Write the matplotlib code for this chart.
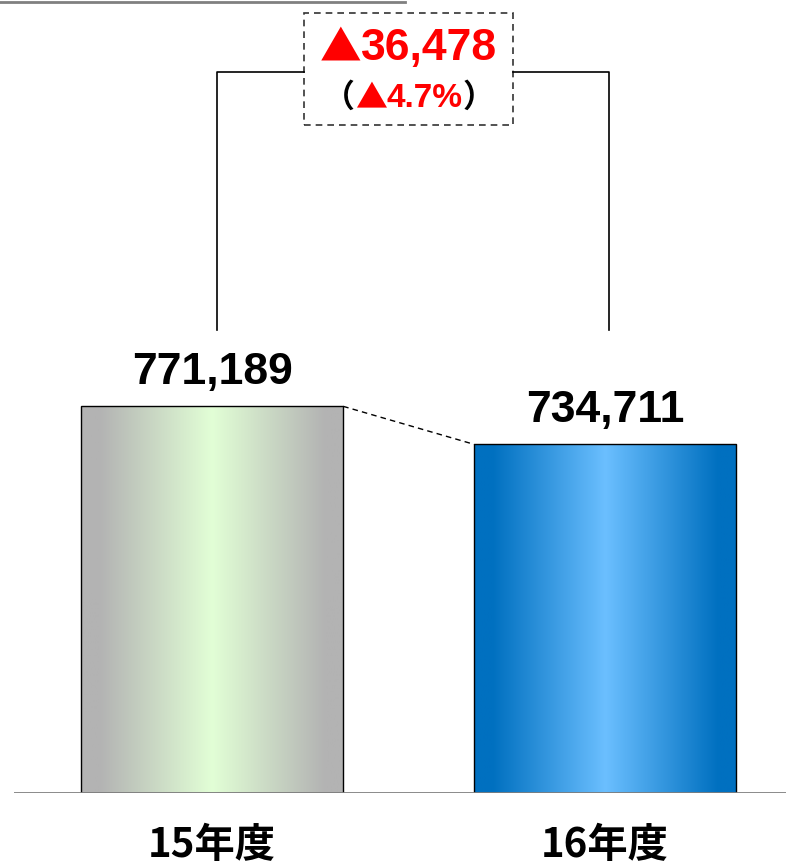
import numpy as np
import matplotlib
matplotlib.use('Agg')
import matplotlib.pyplot as plt
from matplotlib.patches import Rectangle
from matplotlib.colors import LinearSegmentedColormap
from matplotlib.offsetbox import TextArea, HPacker, AnnotationBbox

# data
categories = ['15年度', '16年度']
values = [771189, 734711]
diff_label = '36,478'
pct_label = '4.7%'
edge_colors = ['#B3B3B3', '#0070C0']
center_colors = ['#E2FFD6', '#6BBFFF']

num_font = ['Liberation Sans', 'DejaVu Sans']
cjk_font = ['Noto Sans CJK JP', 'DejaVu Sans']

fig = plt.figure(figsize=(7.86, 8.65), dpi=100)
ax = fig.add_axes([14 / 786, 72 / 865, 772 / 786, 793 / 865])
ax.axis('off')

y0 = 400000
ytop = y0 + 793 * 960
bar_w = 0.667
xs = np.arange(len(values))

# bars with horizontal gradient
for x, v, ec, cc in zip(xs, values, edge_colors, center_colors):
    cmap = LinearSegmentedColormap.from_list(
        'g', [(0, ec), (0.07, ec), (0.5, cc), (0.93, ec), (1, ec)])
    grad = np.linspace(0, 1, 256).reshape(1, -1)
    ax.imshow(grad, cmap=cmap, aspect='auto', interpolation='bilinear',
              extent=[x - bar_w / 2, x + bar_w / 2, y0, v], zorder=2)
    ax.add_patch(Rectangle((x - bar_w / 2, y0), bar_w, v - y0, fill=False,
                           edgecolor='black', lw=1.0, zorder=3))
    ax.text(x, v + 13000, f'{v:,}', ha='center', va='bottom', fontsize=32,
            fontweight='bold', family=num_font, zorder=4)
    ax.text(x, y0 - 50000, categories[x], ha='center', va='center', fontsize=29,
            fontweight='bold', family=cjk_font, clip_on=False)

# baseline
ax.axhline(y0, color='#808080', lw=2, zorder=4)

# dashed line between bar tops
ax.plot([xs[0] + bar_w / 2, xs[1] - bar_w / 2], [values[0], values[1]],
        ls=(0, (4, 3)), color='black', lw=1, zorder=3)

# bracket
br_bottom = 844500
br_top = 1092000
box_l, box_r = 0.5 - 0.266, 0.5 + 0.266
ax.plot([xs[0] + 0.013, xs[0] + 0.013, box_l], [br_bottom, br_top, br_top],
        color='black', lw=1.2)
ax.plot([box_r, xs[1] + 0.01, xs[1] + 0.01], [br_top, br_top, br_bottom],
        color='black', lw=1.2)

# dashed box
box_b, box_t = 1041300, 1148800
ax.add_patch(Rectangle((box_l, box_b), box_r - box_l, box_t - box_b, fill=False,
                       edgecolor='#333333', lw=1.2, ls=(0, (4, 3))))

red = '#FF0000'
line1 = [TextArea('▲', textprops=dict(color=red, fontsize=30, family=cjk_font)),
         TextArea(diff_label, textprops=dict(color=red, fontsize=32, fontweight='bold', family=num_font))]
ax.add_artist(AnnotationBbox(HPacker(children=line1, align='baseline', pad=0, sep=0),
                             (0.5, 400000 + (793 - 49) * 960), frameon=False,
                             box_alignment=(0.5, 0.5)))

line2 = [TextArea('（', textprops=dict(color='black', fontsize=23, fontweight='bold', family=cjk_font)),
         TextArea('▲', textprops=dict(color=red, fontsize=23, family=cjk_font)),
         TextArea(pct_label, textprops=dict(color=red, fontsize=24, fontweight='bold', family=num_font)),
         TextArea('）', textprops=dict(color='black', fontsize=23, fontweight='bold', family=cjk_font))]
ax.add_artist(AnnotationBbox(HPacker(children=line2, align='baseline', pad=0, sep=0),
                             (0.5, 400000 + (793 - 98) * 960), frameon=False,
                             box_alignment=(0.5, 0.5)))

ax.set_xlim(-0.504, 1.46)
ax.set_ylim(y0, ytop)

# grey line at the top left
fig.add_artist(plt.Line2D([0, 405 / 786], [1 - 1.5 / 865, 1 - 1.5 / 865],
                          color='#808080', lw=2, transform=fig.transFigure))

fig.savefig('out.png', dpi=100)
